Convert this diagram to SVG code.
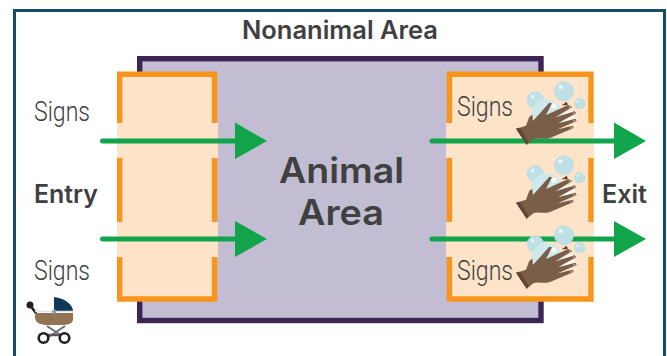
<svg xmlns="http://www.w3.org/2000/svg" xmlns:xlink="http://www.w3.org/1999/xlink" width="667" height="356" viewBox="0 0 667 356">
<style>
.lbl{font-family:"Inter","Noto Sans",sans-serif;font-weight:600;fill:#404041}
.sign{font-family:"Roboto","Liberation Sans",sans-serif;font-weight:300;font-size:27px;fill:#404041}
.door{fill:none;stroke:#f8951d;stroke-width:5.4}
.gap{fill:#fde3c8}
.flow{fill:none;stroke:#12a44b;stroke-width:5;stroke-linecap:round}
.head{fill:#12a44b}
.bub{fill:#bfe0e6;stroke:#a9d3da;stroke-width:1}
.shine{fill:#fff;opacity:.75}
</style>
<defs>
<g id="wash" transform="scale(.3333)">
<circle class="bub" cx="316" cy="120" r="25"/>
<circle class="bub" cx="402" cy="94" r="29"/>
<circle class="bub" cx="449" cy="131" r="16"/>
<circle cx="350" cy="164" r="46" fill="#cfe8ec"/>
<circle class="shine" cx="392" cy="82" r="6"/>
<circle class="shine" cx="308" cy="110" r="5"/>
<circle class="shine" cx="443" cy="125" r="3"/>
<circle class="shine" cx="372" cy="138" r="8"/>
<path fill="#fff" opacity=".85" d="M368 176 L424 150 L436 172 L390 212 Z"/>
<path fill="#5a4130" d="M395 136 L410 125 L414 136 Z"/>
<path fill="#7b5e48" d="M258 206 L288 197 L298 170 L307 164 L309 183 L358 128 L366 130 L348 165 L415 135 L427 141 L376 172 L434 154 L439 160 L384 190 L436 176 L440 183 L384 208 L428 197 L431 204 L360 234 C340 240 322 232 310 238 L290 254 Z"/>
<path fill="#5f4635" d="M290 254 L258 206 L270 203 L296 246 Z"/>
<path fill="#a9937f" d="M416 137 L427 141 L418 146 Z M428 156 L439 160 L430 165 Z M428 178 L440 183 L430 188 Z M420 198 L431 204 L422 208 Z"/>
</g>
</defs>
<rect id="frame" x="14.5" y="10.5" width="650" height="360" fill="#fff" stroke="#154b67" stroke-width="3"/>
<g id="animal-area">
<rect x="139.700" y="58.700" width="401.300" height="261.800" fill="#c2bdd2" stroke="#3d2656" stroke-width="5.400"/>
<text class="lbl" x="279" y="183" font-size="35" font-weight="700" textLength="125" lengthAdjust="spacingAndGlyphs">Animal</text>
<text class="lbl" x="298" y="225" font-size="35" font-weight="700" textLength="86" lengthAdjust="spacingAndGlyphs">Area</text>
</g>
<text id="nonanimal-area" class="lbl" x="242" y="39" font-size="25" textLength="196" lengthAdjust="spacingAndGlyphs">Nonanimal Area</text>
<g id="entry-zone">
<rect x="119.700" y="74.200" width="94.800" height="224.800" class="gap"/>
<rect x="117" y="123" width="101" height="35" class="gap"/>
<rect x="117" y="222" width="101" height="35" class="gap"/>
<path class="door" d="M119.700 123V74.200H214.500V123M119.700 158V222M214.500 158V222M119.700 257V299H214.500V257"/>
<text class="sign" x="34" y="121" textLength="56" lengthAdjust="spacingAndGlyphs">Signs</text>
<text class="lbl" x="34" y="203" font-size="25" textLength="64" lengthAdjust="spacingAndGlyphs">Entry</text>
<text class="sign" x="34" y="280" textLength="56" lengthAdjust="spacingAndGlyphs">Signs</text>
</g>
<g id="exit-zone">
<rect x="449.400" y="74.200" width="141.600" height="224.800" class="gap"/>
<rect x="446" y="123" width="148" height="35" class="gap"/>
<rect x="446" y="222" width="148" height="35" class="gap"/>
<path class="door" d="M449.400 123V74.200H591V123M449.400 158V222M591 158V222M449.400 257V299H591V257"/>
<text class="lbl" x="602" y="203" font-size="25" textLength="45" lengthAdjust="spacingAndGlyphs">Exit</text>
</g>
<g id="connectors">
<path class="flow" d="M102.500 141H238"/><path class="head" d="M235 122.500L267 141L235 159Z"/>
<path class="flow" d="M102.500 239H238"/><path class="head" d="M235 221L267 239L235 257Z"/>
<path class="flow" d="M432 141H617"/><path class="head" d="M614 122.500L646 141L614 159Z"/>
<path class="flow" d="M432 239H617"/><path class="head" d="M614 221L646 239L614 257Z"/>
</g>
<g id="sign-top"><text class="sign" x="457" y="116" textLength="56" lengthAdjust="spacingAndGlyphs">Signs</text></g>
<g id="sign-bottom"><text class="sign" x="457" y="280" textLength="56" lengthAdjust="spacingAndGlyphs">Signs</text></g>
<g id="hands-top"><use href="#wash" x="430" y="60"/></g>
<g id="hands-middle"><use href="#wash" x="430" y="134"/></g>
<g id="hands-bottom"><use href="#wash" x="430" y="204"/></g>
<g id="stroller">
<path d="M30 305L38 316" stroke="#231f20" stroke-width="2.500" fill="none"/>
<circle cx="30" cy="305" r="3.500" fill="#231f20"/>
<path d="M54 297C65 298 73 305 73 311H54Z" fill="#0f3a57"/>
<path d="M35 313H73V320C72 324 68 325 60 325H48C40 325 36 323 35 318Z" fill="#927453"/>
<path d="M35 311.500H73" stroke="#dfe3e6" stroke-width="1.500"/>
<path d="M47 326L65 338M65 326L47 338" stroke="#6d6e71" stroke-width="2" fill="none"/>
<path d="M44 335H64" stroke="#58595b" stroke-width="2.500"/>
<circle cx="43.500" cy="338" r="4.800" fill="#fff" stroke="#231f20" stroke-width="2.600"/>
<circle cx="64.500" cy="338" r="4.800" fill="#fff" stroke="#231f20" stroke-width="2.600"/>
<circle cx="54.300" cy="311.800" r="2.200" fill="#8a9bb0"/>
</g>
</svg>
